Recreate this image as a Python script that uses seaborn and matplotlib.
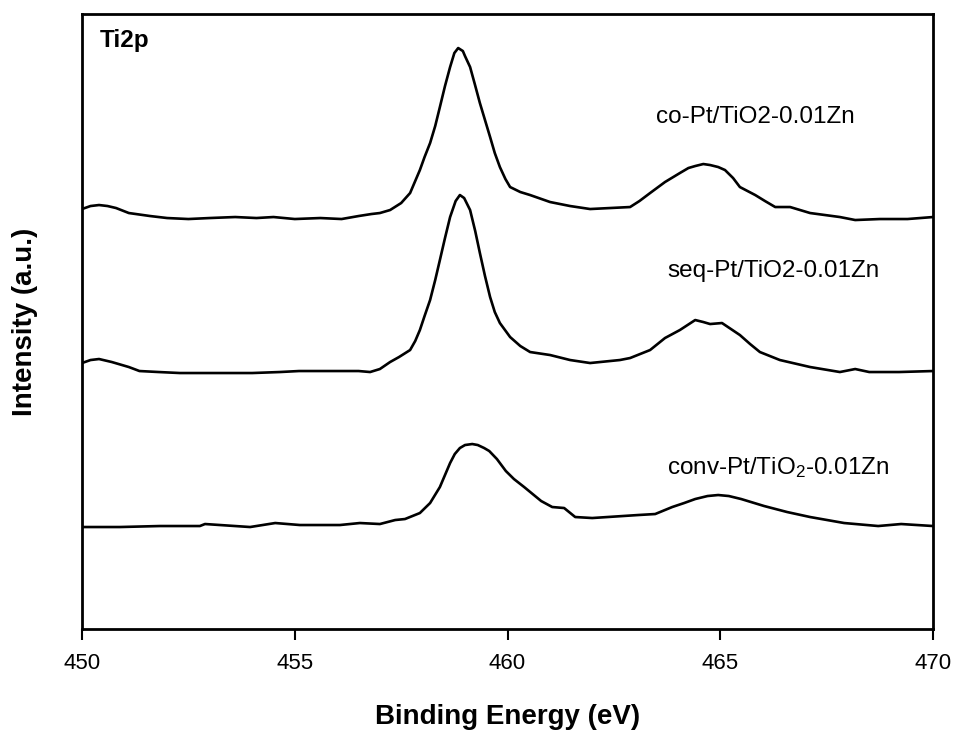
import matplotlib
matplotlib.use("Agg")
import matplotlib.pyplot as plt
import seaborn as sns

# Ti2p XPS spectra (offset intensity, a.u.)
co_energy = [450.0, 450.2, 450.4, 450.6, 450.8, 451.1, 451.6, 452.0, 452.5, 453.0,
             453.6, 454.1, 454.5, 455.0, 455.6, 456.1, 456.5, 456.8, 457.0, 457.24,
             457.5, 457.71, 457.94, 458.05, 458.18, 458.3, 458.41, 458.53, 458.65, 458.75,
             458.84, 458.95, 459.0, 459.12, 459.23, 459.35, 459.47, 459.59, 459.7, 459.82,
             459.95, 460.06, 460.3, 460.53, 461.0, 461.47, 461.94, 462.41, 462.88, 463.1,
             463.35, 463.70, 464.05, 464.25, 464.41, 464.6, 464.76, 464.95, 465.11, 465.3,
             465.46, 465.82, 466.05, 466.29, 466.64, 467.11, 467.81, 468.17, 468.75, 469.4,
             470.0]
co_intensity = [420, 423, 424, 423, 421, 416, 413, 411, 410, 411,
                412, 411, 412, 410, 411, 410, 413, 415, 416, 419,
                426, 436, 459, 472, 486, 503, 522, 543, 562, 576,
                581, 578, 573, 562, 545, 526, 509, 492, 476, 462,
                450, 442, 437, 434, 427, 423, 420, 421, 422, 428,
                436, 447, 456, 461, 463, 465, 464, 462, 459, 451,
                442, 434, 428, 422, 422, 416, 412, 409, 410, 410,
                412]

seq_energy = [450.0, 450.2, 450.4, 450.7, 451.1, 451.35, 451.8, 452.3, 453.0, 454.0,
              454.65, 455.1, 456.5, 456.77, 457.0, 457.24, 457.45, 457.71, 457.83, 457.94,
              458.05, 458.18, 458.3, 458.41, 458.53, 458.65, 458.78, 458.88, 458.98, 459.12,
              459.24, 459.35, 459.47, 459.59, 459.7, 459.82, 460.06, 460.3, 460.53, 461.0,
              461.47, 461.94, 462.64, 462.88, 463.35, 463.70, 464.05, 464.41, 464.6, 464.76,
              465.04, 465.25, 465.46, 465.7, 465.93, 466.4, 467.11, 467.81, 468.17, 468.5,
              469.2, 470.0]
seq_intensity = [266, 269, 270, 267, 262, 258, 257, 256, 256, 256,
                 257, 258, 258, 257, 260, 267, 272, 279, 288, 299,
                 313, 329, 349, 369, 391, 412, 428, 434, 431, 419,
                 398, 376, 353, 332, 317, 306, 292, 283, 277, 274,
                 269, 266, 269, 271, 279, 291, 299, 309, 307, 305,
                 306, 300, 294, 285, 277, 269, 262, 257, 260, 257,
                 257, 258]

conv_energy = [450.0, 450.89, 451.83, 452.77, 452.89, 453.95, 454.54, 455.12, 456.06, 456.53,
               457.0, 457.36, 457.59, 457.94, 458.18, 458.41, 458.65, 458.76, 458.88, 459.0,
               459.17, 459.3, 459.45, 459.57, 459.75, 459.96, 460.15, 460.39, 460.79, 461.05,
               461.33, 461.59, 461.99, 463.07, 463.47, 463.87, 464.15, 464.41, 464.7, 464.95,
               465.2, 465.49, 466.03, 466.57, 467.11, 467.91, 468.71, 469.25, 470.0]
conv_intensity = [102, 102, 103, 103, 105, 102, 106, 104, 104, 106,
                  105, 109, 110, 116, 126, 142, 166, 175, 181, 184,
                  185, 184, 181, 178, 170, 158, 150, 142, 128, 122,
                  121, 112, 111, 114, 115, 122, 126, 130, 133, 134,
                  133, 130, 123, 117, 112, 106, 103, 105, 103]

sample_labels = ["co-Pt/TiO2-0.01Zn", "seq-Pt/TiO2-0.01Zn", r"conv-Pt/TiO$_2$-0.01Zn"]
label_energy = [465.82, 466.24, 466.36]
label_height = [512, 358, 161]
x_ticks = [450, 455, 460, 465, 470]

sns.set_style("ticks")
plt.rcParams["font.family"] = ["Liberation Sans", "DejaVu Sans"]
plt.rcParams["mathtext.default"] = "regular"
plt.rcParams["text.color"] = "black"
plt.rcParams["axes.labelcolor"] = "black"
plt.rcParams["xtick.color"] = "black"

fig = plt.figure(figsize=(9.57, 7.31), dpi=100)
ax = fig.add_axes([0.0857, 0.1395, 0.8893, 0.8413])

for e, i in [(co_energy, co_intensity), (seq_energy, seq_intensity), (conv_energy, conv_intensity)]:
    sns.lineplot(x=e, y=i, color="black", lw=1.9, ax=ax, sort=False)

for txt, e, h in zip(sample_labels, label_energy, label_height):
    ax.text(e, h, txt, ha="center", va="center", fontsize=17.5, color="black")

ax.text(450.42, 589, "Ti2p", ha="left", va="center", fontsize=17.5, fontweight="bold", color="black")

ax.set_xlim(450, 470)
ax.set_ylim(0, 615)
ax.set_xticks(x_ticks)
ax.set_yticks([])
ax.tick_params(axis="x", direction="out", length=8, width=1.5, labelsize=16, pad=9,
               colors="black")
for s in ax.spines.values():
    s.set_linewidth(2)
    s.set_color("black")

ax.set_xlabel("Binding Energy (eV)", fontsize=20, fontweight="bold", labelpad=22)
ax.set_ylabel("Intensity (a.u.)", fontsize=20, fontweight="bold", labelpad=32)

fig.savefig("out.png", dpi=100)
